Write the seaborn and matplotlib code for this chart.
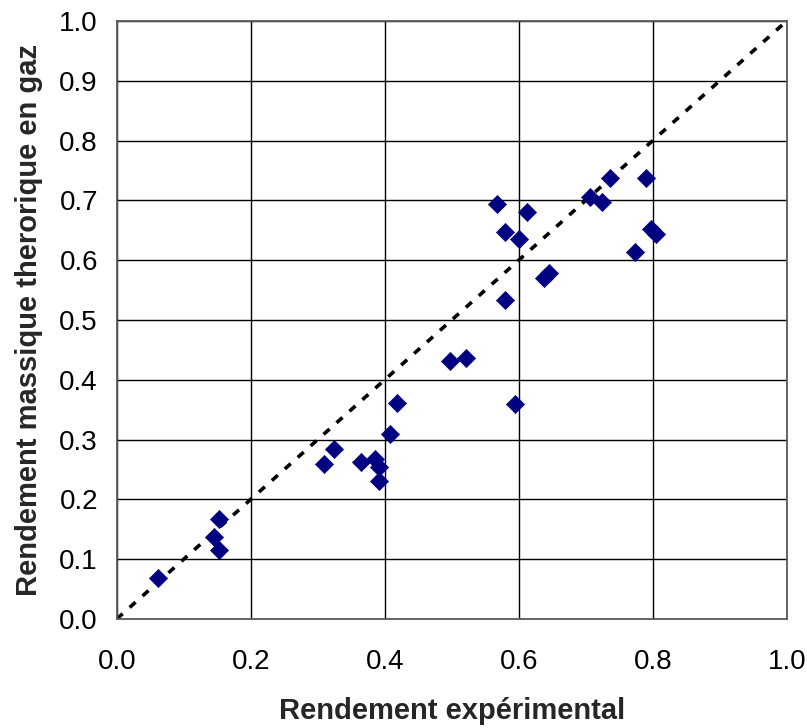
import matplotlib
matplotlib.use("Agg")
import matplotlib.pyplot as plt
import seaborn as sns
import pandas as pd

# Data
rendement_experimental = [0.061, 0.153, 0.145, 0.153, 0.309, 0.325, 0.364, 0.385,
                          0.391, 0.391, 0.408, 0.419, 0.497, 0.521, 0.594, 0.579,
                          0.567, 0.579, 0.600, 0.613, 0.638, 0.645, 0.706, 0.724,
                          0.737, 0.790, 0.773, 0.797, 0.805]
rendement_theorique = [0.068, 0.167, 0.137, 0.116, 0.259, 0.284, 0.262, 0.268,
                       0.254, 0.231, 0.309, 0.361, 0.431, 0.436, 0.359, 0.533,
                       0.694, 0.647, 0.636, 0.681, 0.571, 0.579, 0.706, 0.697,
                       0.737, 0.737, 0.614, 0.652, 0.643]
diag_x = [0.0, 1.0]
diag_y = [0.0, 1.0]
x_ticks = [0.0, 0.2, 0.4, 0.6, 0.8, 1.0]
y_ticks = [0.0, 0.1, 0.2, 0.3, 0.4, 0.5, 0.6, 0.7, 0.8, 0.9, 1.0]
x_label = "Rendement expérimental"
y_label = "Rendement massique therorique en gaz"

df = pd.DataFrame({"x": rendement_experimental, "y": rendement_theorique})

sns.set_style("white")
plt.rcParams["font.family"] = ["Liberation Sans", "DejaVu Sans"]

fig = plt.figure(figsize=(8.07, 7.28), dpi=100)
ax = fig.add_axes([116.7 / 807, 1 - 619 / 728, (786.7 - 116.7) / 807, (619 - 21) / 728])

ax.set_axisbelow(True)
ax.grid(True, color="black", linewidth=1.0)

ax.plot(diag_x, diag_y, color="black", linewidth=2.6,
        linestyle=(0, (2.2, 2.6)), zorder=2)

sns.scatterplot(data=df, x="x", y="y", marker="D", s=85, color="#000080",
                edgecolor="#000080", linewidth=0.5, ax=ax, zorder=3, legend=False)

ax.set_xlim(0, 1)
ax.set_ylim(0, 1)
ax.set_xticks(x_ticks)
ax.set_yticks(y_ticks)
ax.set_xticklabels([f"{v:.1f}" for v in x_ticks])
ax.set_yticklabels([f"{v:.1f}" for v in y_ticks])

for sp in ax.spines.values():
    sp.set_color("#5a5a5a")
    sp.set_linewidth(1.3)

ax.tick_params(axis="both", which="major", direction="out", length=6.5,
               width=1.0, color="#5a5a5a", labelsize=20, labelcolor="black")
ax.tick_params(axis="y", pad=7)
ax.tick_params(axis="x", pad=15)

ax.set_xlabel(x_label, fontsize=21, fontweight="bold", labelpad=16)
ax.set_ylabel(y_label, fontsize=21, fontweight="bold", labelpad=12)

fig.savefig("out.png", dpi=100)
